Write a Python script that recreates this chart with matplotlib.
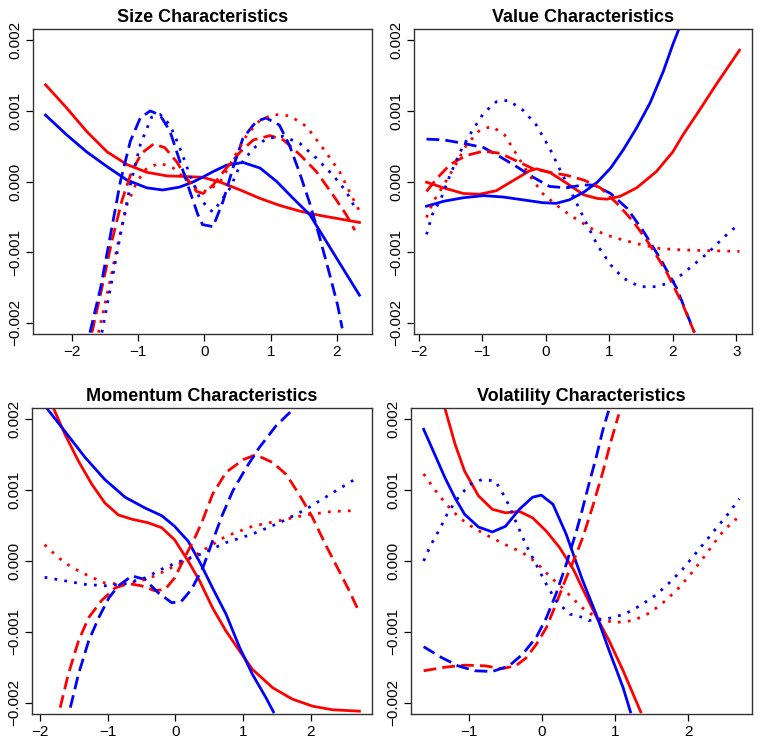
import numpy as np
import matplotlib.pyplot as plt

plt.rcParams['font.family'] = ['Liberation Sans', 'DejaVu Sans']

# values, y in units of 0.001
# ---- Size
size_red_solid_x = [-2.40, -2.08, -1.78, -1.47, -1.17, -0.87, -0.57, -0.28, -0.03, 0.24, 0.54, 0.84, 1.14, 1.44, 1.74, 2.04, 2.34]
size_red_solid_y = [1.37, 1.04, 0.71, 0.42, 0.24, 0.13, 0.08, 0.07, 0.06, -0.01, -0.12, -0.24, -0.34, -0.42, -0.48, -0.53, -0.58]
size_blue_solid_x = [-2.40, -2.08, -1.78, -1.47, -1.17, -0.87, -0.63, -0.38, -0.18, -0.03, 0.13, 0.33, 0.58, 0.84, 1.09, 1.34, 1.59, 1.84, 2.09, 2.34]
size_blue_solid_y = [0.94, 0.66, 0.42, 0.21, 0.02, -0.09, -0.12, -0.08, -0.01, 0.06, 0.14, 0.23, 0.27, 0.19, 0.0, -0.24, -0.47, -0.85, -1.23, -1.61]
size_blue_dash_x = [-1.73, -1.57, -1.42, -1.27, -1.12, -0.97, -0.82, -0.67, -0.52, -0.37, -0.22, -0.10, -0.03, 0.13, 0.28, 0.43, 0.58, 0.78, 0.93, 1.13, 1.28, 1.43, 1.58, 1.73, 1.88, 2.01, 2.08]
size_blue_dash_y = [-2.14, -1.51, -0.76, 0.0, 0.57, 0.90, 1.00, 0.94, 0.71, 0.28, -0.14, -0.47, -0.61, -0.64, -0.28, 0.19, 0.61, 0.85, 0.90, 0.80, 0.52, 0.14, -0.28, -0.76, -1.28, -1.75, -2.08]
size_red_dash_x = [-1.70, -1.55, -1.40, -1.25, -1.10, -0.95, -0.77, -0.60, -0.42, -0.27, -0.12, -0.02, 0.13, 0.33, 0.54, 0.74, 0.99, 1.19, 1.44, 1.69, 1.94, 2.14, 2.27]
size_red_dash_y = [-2.14, -1.51, -0.85, -0.28, 0.14, 0.40, 0.53, 0.48, 0.28, 0.05, -0.14, -0.17, -0.05, 0.19, 0.42, 0.59, 0.65, 0.59, 0.38, 0.14, -0.19, -0.47, -0.69]
size_blue_dot_x = [-1.55, -1.42, -1.27, -1.12, -0.97, -0.80, -0.67, -0.52, -0.37, -0.22, -0.07, 0.08, 0.13, 0.39, 0.54, 0.74, 0.94, 1.19, 1.44, 1.69, 1.94, 2.14, 2.29]
size_blue_dot_y = [-2.14, -1.51, -0.76, -0.05, 0.52, 0.91, 0.95, 0.80, 0.47, 0.09, -0.24, -0.40, -0.43, -0.09, 0.24, 0.47, 0.61, 0.64, 0.54, 0.33, 0.09, -0.14, -0.40]
size_red_dot_x = [-1.60, -1.45, -1.30, -1.17, -1.02, -0.87, -0.67, -0.47, -0.27, -0.10, 0.04, 0.24, 0.44, 0.64, 0.84, 1.04, 1.29, 1.54, 1.79, 2.04, 2.24, 2.33]
size_red_dot_y = [-2.14, -1.51, -0.85, -0.33, 0.0, 0.19, 0.26, 0.19, 0.02, -0.12, -0.14, 0.0, 0.33, 0.66, 0.87, 0.95, 0.93, 0.78, 0.47, 0.14, -0.24, -0.40]

# ---- Value
value_blue_solid_x = [-1.88, -1.61, -1.30, -0.98, -0.67, -0.36, -0.05, 0.16, 0.37, 0.60, 0.81, 1.02, 1.22, 1.43, 1.64, 1.85, 2.00, 2.10]
value_blue_solid_y = [-0.35, -0.28, -0.23, -0.20, -0.22, -0.26, -0.30, -0.31, -0.26, -0.15, -0.01, 0.19, 0.45, 0.76, 1.11, 1.56, 1.94, 2.17]
value_red_solid_x = [-1.88, -1.61, -1.30, -1.04, -0.78, -0.52, -0.26, -0.15, 0.06, 0.32, 0.60, 0.81, 0.96, 1.17, 1.43, 1.74, 2.00, 2.16, 2.42, 2.68, 3.05]
value_red_solid_y = [-0.01, -0.09, -0.17, -0.18, -0.13, 0.01, 0.15, 0.18, 0.13, -0.02, -0.19, -0.24, -0.25, -0.21, -0.09, 0.14, 0.42, 0.66, 1.01, 1.37, 1.86]
value_blue_dash_x = [-1.88, -1.61, -1.30, -0.98, -0.72, -0.46, -0.20, 0.06, 0.32, 0.58, 0.76, 1.02, 1.28, 1.54, 1.80, 2.06, 2.34]
value_blue_dash_y = [0.60, 0.59, 0.54, 0.48, 0.35, 0.21, 0.06, -0.07, -0.09, -0.05, -0.05, -0.17, -0.38, -0.71, -1.09, -1.51, -2.14]
value_red_dash_x = [-1.88, -1.71, -1.51, -1.25, -0.98, -0.72, -0.46, -0.20, 0.06, 0.32, 0.60, 0.86, 1.12, 1.38, 1.64, 1.90, 2.16, 2.34]
value_red_dash_y = [-0.14, 0.05, 0.24, 0.37, 0.43, 0.40, 0.29, 0.18, 0.13, 0.09, 0.02, -0.09, -0.31, -0.57, -0.90, -1.28, -1.75, -2.14]
value_blue_dot_x = [-1.88, -1.79, -1.66, -1.51, -1.35, -1.20, -0.98, -0.78, -0.59, -0.36, -0.15, 0.06, 0.21, 0.42, 0.61, 0.81, 1.02, 1.22, 1.48, 1.74, 2.00, 2.26, 2.58, 2.79, 2.98]
value_blue_dot_y = [-0.75, -0.47, -0.26, 0.09, 0.42, 0.66, 0.97, 1.13, 1.15, 1.01, 0.80, 0.47, 0.19, -0.19, -0.54, -0.90, -1.18, -1.37, -1.49, -1.49, -1.42, -1.23, -0.99, -0.80, -0.65]
value_red_dot_x = [-1.88, -1.77, -1.61, -1.45, -1.25, -1.04, -0.85, -0.65, -0.46, -0.26, -0.05, 0.16, 0.37, 0.58, 0.70, 0.96, 1.22, 1.48, 1.80, 2.16, 2.58, 3.05]
value_red_dot_y = [-0.51, -0.28, -0.05, 0.19, 0.52, 0.73, 0.78, 0.66, 0.38, 0.09, -0.17, -0.33, -0.47, -0.59, -0.66, -0.76, -0.83, -0.89, -0.95, -0.97, -0.98, -0.99]

# ---- Momentum
mom_blue_solid_x = [-1.90, -1.63, -1.33, -1.04, -0.74, -0.45, -0.20, -0.01, 0.19, 0.37, 0.55, 0.75, 0.95, 1.14, 1.34, 1.45]
mom_blue_solid_y = [2.16, 1.83, 1.46, 1.15, 0.90, 0.75, 0.64, 0.49, 0.28, -0.03, -0.38, -0.75, -1.22, -1.60, -1.93, -2.13]
mom_red_solid_x = [-1.80, -1.63, -1.43, -1.23, -1.04, -0.84, -0.64, -0.40, -0.20, -0.01, 0.19, 0.36, 0.55, 0.75, 0.95, 1.14, 1.44, 1.73, 2.03, 2.32, 2.72]
mom_red_solid_y = [2.16, 1.79, 1.41, 1.08, 0.82, 0.65, 0.59, 0.54, 0.47, 0.30, 0.0, -0.28, -0.66, -0.99, -1.27, -1.53, -1.79, -1.95, -2.05, -2.10, -2.12]
mom_blue_dash_x = [-1.55, -1.43, -1.28, -1.13, -0.98, -0.84, -0.64, -0.45, -0.25, -0.05, 0.09, 0.24, 0.41, 0.55, 0.70, 0.85, 1.05, 1.24, 1.49, 1.76]
mom_blue_dash_y = [-2.07, -1.60, -1.13, -0.80, -0.52, -0.35, -0.21, -0.26, -0.45, -0.59, -0.57, -0.40, -0.09, 0.28, 0.66, 0.99, 1.32, 1.60, 1.91, 2.16]
mom_red_dash_x = [-1.70, -1.58, -1.43, -1.28, -1.09, -0.89, -0.69, -0.50, -0.30, -0.15, -0.01, 0.14, 0.29, 0.39, 0.55, 0.75, 1.00, 1.19, 1.44, 1.64, 1.83, 2.03, 2.22, 2.42, 2.57, 2.72]
mom_red_dash_y = [-2.07, -1.60, -1.13, -0.80, -0.56, -0.38, -0.32, -0.35, -0.42, -0.40, -0.24, 0.05, 0.33, 0.54, 0.94, 1.25, 1.43, 1.50, 1.39, 1.22, 0.94, 0.61, 0.23, -0.14, -0.42, -0.73]
mom_blue_dot_x = [-1.93, -1.63, -1.33, -1.04, -0.74, -0.45, -0.15, 0.14, 0.36, 0.75, 1.14, 1.54, 1.93, 2.32, 2.63]
mom_blue_dot_y = [-0.23, -0.28, -0.33, -0.35, -0.32, -0.24, -0.09, 0.02, 0.09, 0.26, 0.38, 0.54, 0.73, 0.96, 1.14]
mom_red_dot_x = [-1.93, -1.73, -1.53, -1.28, -1.04, -0.79, -0.54, -0.30, -0.05, 0.19, 0.36, 0.75, 1.14, 1.54, 1.93, 2.32, 2.62]
mom_red_dot_y = [0.23, 0.05, -0.09, -0.21, -0.31, -0.33, -0.29, -0.21, -0.09, 0.02, 0.12, 0.35, 0.49, 0.57, 0.65, 0.70, 0.71]

# ---- Volatility
vol_blue_solid_x = [-1.62, -1.47, -1.33, -1.19, -1.06, -0.87, -0.68, -0.50, -0.31, -0.13, -0.01, 0.15, 0.33, 0.55, 0.74, 0.92, 1.11, 1.21]
vol_blue_solid_y = [1.86, 1.51, 1.18, 0.89, 0.66, 0.48, 0.41, 0.49, 0.73, 0.90, 0.93, 0.80, 0.38, -0.26, -0.75, -1.27, -1.79, -2.13]
vol_red_solid_x = [-1.33, -1.19, -1.06, -0.87, -0.68, -0.50, -0.31, -0.13, 0.06, 0.24, 0.43, 0.55, 0.74, 0.92, 1.11, 1.35]
vol_red_solid_y = [2.16, 1.65, 1.27, 0.92, 0.73, 0.68, 0.70, 0.61, 0.42, 0.19, -0.12, -0.38, -0.78, -1.13, -1.55, -2.13]
vol_blue_dash_x = [-1.62, -1.38, -1.15, -0.92, -0.68, -0.45, -0.27, -0.08, 0.06, 0.19, 0.33, 0.47, 0.55, 0.64, 0.74, 0.83, 0.91]
vol_blue_dash_y = [-1.21, -1.36, -1.48, -1.55, -1.56, -1.48, -1.32, -1.08, -0.80, -0.47, -0.05, 0.42, 0.72, 1.08, 1.46, 1.84, 2.12]
vol_red_dash_x = [-1.62, -1.33, -1.06, -0.78, -0.55, -0.36, -0.22, -0.08, 0.06, 0.19, 0.33, 0.47, 0.56, 0.69, 0.83, 0.94, 1.05]
vol_red_dash_y = [-1.55, -1.50, -1.47, -1.48, -1.52, -1.48, -1.37, -1.18, -0.94, -0.61, -0.24, 0.10, 0.34, 0.76, 1.25, 1.68, 2.07]
vol_blue_dot_x = [-1.62, -1.52, -1.40, -1.29, -1.15, -0.99, -0.82, -0.64, -0.50, -0.36, -0.22, -0.08, 0.06, 0.19, 0.38, 0.57, 0.64, 0.88, 1.13, 1.36, 1.57, 1.76, 1.92, 2.08, 2.24, 2.39, 2.55, 2.70]
vol_blue_dot_y = [0.0, 0.23, 0.45, 0.68, 0.89, 1.08, 1.15, 1.13, 0.89, 0.56, 0.23, -0.05, -0.33, -0.56, -0.75, -0.80, -0.84, -0.82, -0.75, -0.62, -0.47, -0.29, -0.12, 0.08, 0.28, 0.47, 0.67, 0.88]
vol_red_dot_x = [-1.62, -1.47, -1.31, -1.13, -0.94, -0.73, -0.50, -0.27, -0.08, 0.10, 0.29, 0.47, 0.55, 0.76, 0.99, 1.25, 1.48, 1.69, 1.87, 2.03, 2.19, 2.36, 2.50, 2.64, 2.70]
vol_red_dot_y = [1.23, 1.01, 0.80, 0.61, 0.47, 0.35, 0.23, 0.12, -0.02, -0.21, -0.39, -0.58, -0.66, -0.81, -0.87, -0.84, -0.73, -0.56, -0.38, -0.19, 0.02, 0.26, 0.45, 0.57, 0.67]

titles = ['Size Characteristics', 'Value Characteristics',
          'Momentum Characteristics', 'Volatility Characteristics']
xticks = [[-2, -1, 0, 1, 2], [-2, -1, 0, 1, 2, 3], [-2, -1, 0, 1, 2], [-1, 0, 1, 2]]
yticks = [-0.002, -0.001, 0.0, 0.001, 0.002]
ytick_labels = ['\u22120.002', '\u22120.001', '0.000', '0.001', '0.002']

panels = [
    [(size_red_solid_x, size_red_solid_y, 'r', '-'), (size_blue_solid_x, size_blue_solid_y, 'b', '-'),
     (size_red_dash_x, size_red_dash_y, 'r', '--'), (size_blue_dash_x, size_blue_dash_y, 'b', '--'),
     (size_red_dot_x, size_red_dot_y, 'r', ':'), (size_blue_dot_x, size_blue_dot_y, 'b', ':')],
    [(value_red_solid_x, value_red_solid_y, 'r', '-'), (value_blue_solid_x, value_blue_solid_y, 'b', '-'),
     (value_blue_dash_x, value_blue_dash_y, 'b', '--'), (value_red_dash_x, value_red_dash_y, 'r', '--'),
     (value_red_dot_x, value_red_dot_y, 'r', ':'), (value_blue_dot_x, value_blue_dot_y, 'b', ':')],
    [(mom_red_solid_x, mom_red_solid_y, 'r', '-'), (mom_blue_solid_x, mom_blue_solid_y, 'b', '-'),
     (mom_red_dash_x, mom_red_dash_y, 'r', '--'), (mom_blue_dash_x, mom_blue_dash_y, 'b', '--'),
     (mom_red_dot_x, mom_red_dot_y, 'r', ':'), (mom_blue_dot_x, mom_blue_dot_y, 'b', ':')],
    [(vol_red_solid_x, vol_red_solid_y, 'r', '-'), (vol_blue_solid_x, vol_blue_solid_y, 'b', '-'),
     (vol_red_dash_x, vol_red_dash_y, 'r', '--'), (vol_blue_dash_x, vol_blue_dash_y, 'b', '--'),
     (vol_red_dot_x, vol_red_dot_y, 'r', ':'), (vol_blue_dot_x, vol_blue_dot_y, 'b', ':')],
]

colors = {'r': '#ff0000', 'b': '#0000ff'}
dashes = {'--': (4.6, 2.2), ':': (1, 2.6)}

fig = plt.figure(figsize=(7.62, 7.47), dpi=100)
# axes boxes in pixels: left, top, width, height
boxes = [(33, 29, 339, 305), (414, 29, 338, 305), (32, 408, 340, 306), (411, 408, 341, 306)]

for i, (box, curves) in enumerate(zip(boxes, panels)):
    l, t, w, h = box
    ax = fig.add_axes([l / 762, 1 - (t + h) / 747, w / 762, h / 747])
    allx = []
    for xs, ys, c, ls in curves:
        ys = np.array(ys) * 1e-3
        line, = ax.plot(xs, ys, color=colors[c], lw=2.0, solid_joinstyle='round')
        if ls != '-':
            line.set_dashes(dashes[ls])
        allx += list(xs)
    x0, x1 = min(allx), max(allx)
    pad = (x1 - x0) * 0.04
    ax.set_xlim(x0 - pad, x1 + pad)
    ax.set_ylim(-0.00216, 0.00216)
    ax.set_xticks(xticks[i])
    ax.set_xticklabels([str(v).replace('-', '\u2212') for v in xticks[i]])
    ax.set_yticks(yticks)
    ax.set_yticklabels(ytick_labels, rotation=90, va='center')
    ax.tick_params(direction='out', length=5, width=0.9, labelsize=11, colors='black', pad=3)
    for s in ax.spines.values():
        s.set_linewidth(1.0)
        s.set_color('#333333')
    ax.set_title(titles[i], fontsize=13, fontweight='bold', pad=5)

fig.savefig('out.png', dpi=100)
